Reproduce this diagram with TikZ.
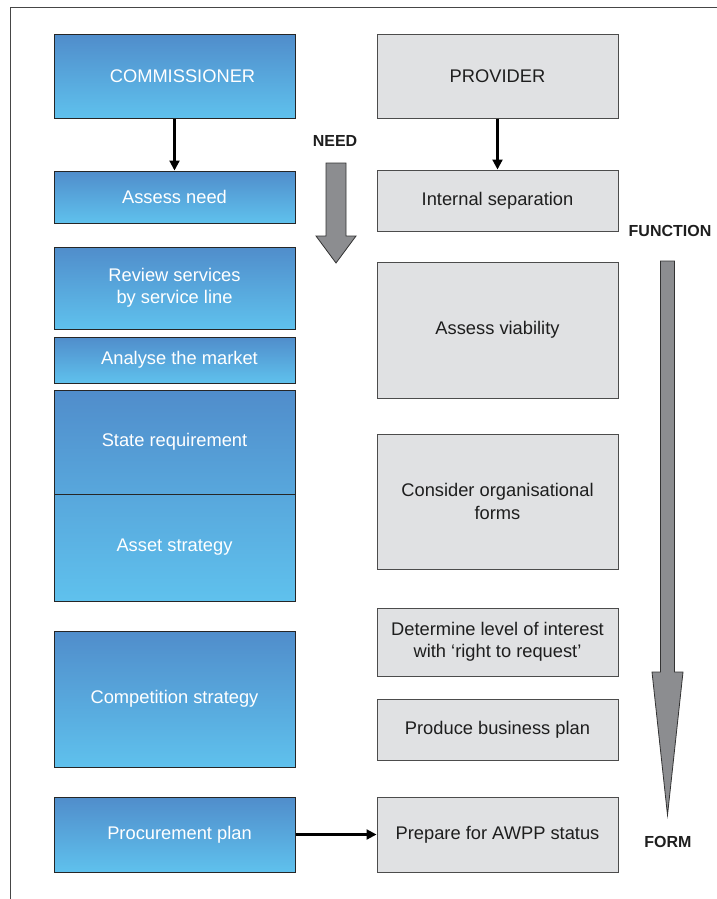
\documentclass[tikz,border=0pt]{standalone}
\usepackage{fontspec}
\setmainfont{Liberation Sans}
\usetikzlibrary{arrows.meta}
\definecolor{blueTop}{RGB}{80,141,203}
\definecolor{blueMid}{RGB}{88,167,220}
\definecolor{blueBot}{RGB}{95,193,237}
\definecolor{boxGray}{RGB}{224,225,227}
\definecolor{arrowGray}{RGB}{140,141,144}
\definecolor{frameGray}{RGB}{70,70,70}
\definecolor{textDark}{RGB}{30,30,30}
\begin{document}
\begin{tikzpicture}[x=1pt,y=-1pt,
  boxbase/.style={line width=1pt, align=center, minimum width=241pt,
    inner sep=0pt, font=\fontsize{18.3}{22.5}\selectfont},
  bluebox/.style={boxbase, draw=black!85, top color=blueTop, bottom color=blueBot, text=white},
  greybox/.style={boxbase, draw=black!70, fill=boxGray, text=textDark},
  link/.style={line width=2.2pt, -{Triangle[length=10pt,width=10pt]}},
  blockarrow/.style={fill=arrowGray, draw=black!80, line width=0.8pt, line join=miter},
  phase/.style={font=\fontsize{16}{19}\selectfont\bfseries, text=textDark}
]
\useasboundingbox (0,0) rectangle (717,899);

% outer frame (top and left edges only)
\draw[frameGray, line width=0.9pt] (10,899) -- (10,7) -- (717,7);

% commissioner column
\node[bluebox, minimum height=83pt]  (comm)    at (174.5,76.5) {\hspace*{16pt}COMMISSIONER};
\node[bluebox, minimum height=52pt]  (need)    at (174.5,197)  {Assess need};
\node[bluebox, minimum height=82pt]  (review)  at (174.5,288)  {Review services\\by service line};
\node[bluebox, minimum height=46pt]  (market)  at (174.5,360)  {\hspace*{10pt}Analyse the market};
\node[bluebox, minimum height=104pt, top color=blueTop, bottom color=blueMid] (state) at (174.5,442) {State requirement};
\node[bluebox, minimum height=107pt, top color=blueMid, bottom color=blueBot] (asset) at (174.5,547.5) {Asset strategy};
\node[bluebox, minimum height=136pt] (compet)  at (174.5,699)  {Competition strategy};
\node[bluebox, minimum height=75pt]  (procure) at (174.5,834.5) {\hspace*{10pt}Procurement plan};

% provider column
\node[greybox, minimum height=83pt]  (prov)     at (497.5,76.5)  {PROVIDER};
\node[greybox, minimum height=61pt]  (sep)      at (497.5,200.5) {Internal separation};
\node[greybox, minimum height=136pt] (viab)     at (497.5,330)   {Assess viability};
\node[greybox, minimum height=135pt] (forms)    at (497.5,501.5) {Consider organisational\\forms};
\node[greybox, minimum height=68pt]  (interest) at (497.5,642)   {Determine level of  interest\\with ‘right to request’};
\node[greybox, minimum height=61pt]  (bplan)    at (497.5,729.5) {Produce business plan};
\node[greybox, minimum height=75pt]  (awpp)     at (497.5,834.5) {Prepare for AWPP status};

% connectors
\draw[link] (comm.south) -- (need.north);
\draw[link] (prov.south) -- (sep.north);
\draw[link] (procure.east) -- (awpp.west);

% phase labels
\node[phase] (lneed) at (335,141) {NEED};
\node[phase] (lfunc) at (670,231) {FUNCTION};
\node[phase] (lform) at (668,842) {FORM};

% block arrows
\draw[blockarrow] (326,163) -- (346,163) -- (346,236) -- (356,236) -- (336,263)
  -- (316,236) -- (326,236) -- cycle;
\draw[blockarrow] (660.5,261) -- (674.5,261) -- (674.5,672) -- (683,672) -- (667.5,815)
  -- (652,672) -- (660.5,672) -- cycle;
\end{tikzpicture}
\end{document}
